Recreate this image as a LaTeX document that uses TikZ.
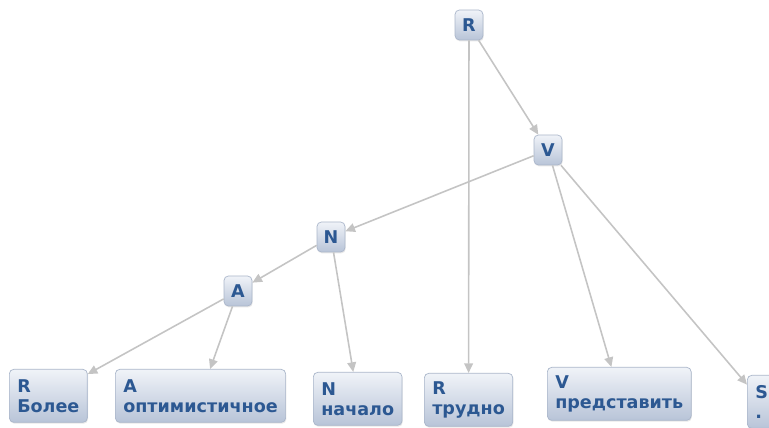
\documentclass[tikz,border=0pt]{standalone}
\usepackage{fontspec}
\setmainfont{DejaVu Sans}
\usetikzlibrary{arrows.meta,shadows}
\definecolor{tagblue}{RGB}{44,88,146}
\definecolor{boxtop}{RGB}{240,243,248}
\definecolor{boxbot}{RGB}{184,196,216}
\definecolor{boxline}{RGB}{170,182,202}
\definecolor{edgegray}{RGB}{196,196,196}
\tikzstyle{tag} = [rounded corners=2.5pt, draw=boxline, top color=boxtop, bottom color=boxbot, text=tagblue, font=\bfseries\fontsize{10}{11.5}\selectfont, drop shadow={opacity=0.18, shadow xshift=0.4pt, shadow yshift=-0.8pt}]
\tikzstyle{inner} = [tag, minimum width=0.56cm, minimum height=0.6cm, inner sep=0pt]
\tikzstyle{leaf} = [tag, anchor=north west, align=left, minimum height=1.06cm, inner xsep=4.5pt, inner ysep=2pt, execute at begin node=\rule{0pt}{13pt}]
\tikzstyle{arrow} = [draw=edgegray, line width=0.9pt, -{Triangle[length=5.5pt,width=5pt]}]

\begin{document}
\begin{tikzpicture}[x=0.02cm, y=-0.02cm]
\useasboundingbox (0,0) rectangle (769,428);
\clip (0,0) rectangle (769,428);
% inner nodes
\node (r0) at (469,25) [inner] {R};
\node (v0) at (548,150) [inner] {V};
\node (n0) at (331,237) [inner] {N};
\node (a0) at (238,291) [inner] {A};
% leaves
\node (rbolee) at (9,369) [leaf] {R\\Более};
\node (aopt) at (115,369) [leaf] {A\\оптимистичное};
\node (nnach) at (313,372) [leaf] {N\\начало};
\node (rtrud) at (424,373) [leaf] {R\\трудно};
\node (vpred) at (547,367) [leaf] {V\\представить};
\node (sdot) at (747,375) [leaf] {S\\.};
\draw [arrow] (r0)--(v0);
\draw [arrow] (r0)--(rtrud);
\draw [arrow] (v0)--(n0);
\draw [arrow] (v0)--(vpred);
\draw [arrow] (v0)--(sdot);
\draw [arrow] (n0)--(a0);
\draw [arrow] (n0)--(nnach);
\draw [arrow] (a0)--(rbolee);
\draw [arrow] (a0)--(aopt);
\end{tikzpicture}
\end{document}
